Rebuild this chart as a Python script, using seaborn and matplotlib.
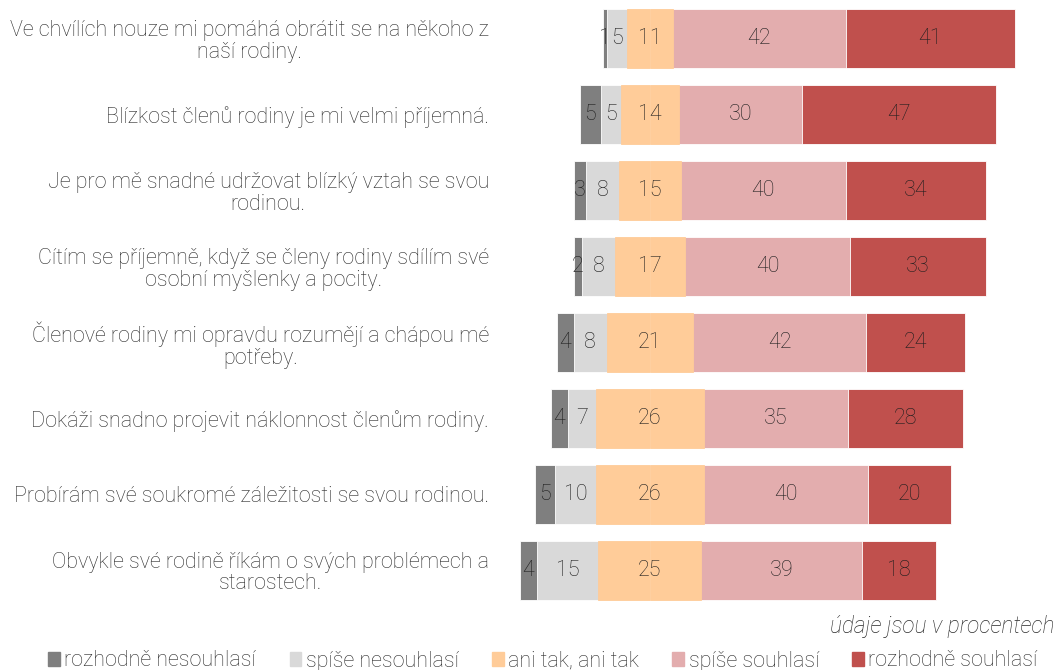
import matplotlib
matplotlib.use("Agg")
import matplotlib.pyplot as plt
import matplotlib.patches as mpatches
import numpy as np
import pandas as pd
import seaborn as sns

# statements (already wrapped as in the original chart)
items = [
    "Ve chvílích nouze mi pomáhá obrátit se na někoho z\nnaší rodiny.",
    "Blízkost členů rodiny je mi velmi příjemná.",
    "Je pro mě snadné udržovat blízký vztah se svou\nrodinou.",
    "Cítím se příjemně, když se členy rodiny sdílím své\nosobní myšlenky a pocity.",
    "Členové rodiny mi opravdu rozumějí a chápou mé\npotřeby.",
    "Dokáži snadno projevit náklonnost členům rodiny.",
    "Probírám své soukromé záležitosti se svou rodinou.",
    "Obvykle své rodině říkám o svých problémech a\nstarostech.",
]

answers = ["rozhodně nesouhlasí", "spíše nesouhlasí", "ani tak, ani tak",
           "spíše souhlasí", "rozhodně souhlasí"]

strongly_disagree = [1, 5, 3, 2, 4, 4, 5, 4]
rather_disagree = [5, 5, 8, 8, 8, 7, 10, 15]
neutral = [11, 14, 15, 17, 21, 26, 26, 25]
rather_agree = [42, 30, 40, 40, 42, 35, 40, 39]
strongly_agree = [41, 47, 34, 33, 24, 28, 20, 18]

colors = ["#7f7f7f", "#d9d9d9", "#ffcc99", "#e3adae", "#c0504d"]

df = pd.DataFrame({
    "item": items,
    answers[0]: strongly_disagree,
    answers[1]: rather_disagree,
    answers[2]: neutral,
    answers[3]: rather_agree,
    answers[4]: strongly_agree,
})

# bars are centred on the middle of the neutral answer
vals = df[answers].to_numpy(dtype=float)
start = -(vals[:, 0] + vals[:, 1] + vals[:, 2] / 2)
bounds = start[:, None] + np.hstack([np.zeros((len(df), 1)), np.cumsum(vals, axis=1)])
for k in range(6):
    df[f"b{k}"] = bounds[:, k]

fig = plt.figure(figsize=(10.57, 6.70), dpi=100)
ax = fig.add_axes([500 / 1057, 62 / 670, 557 / 1057, 607.2 / 670])

fam = ["Roboto", "DejaVu Sans"]
plt.rcParams["font.family"] = fam
txt_color = "#2b2b2b"
fs = 15.5
bw = 0.777

# layered bars: right side from far end inward, then left side
# (neutral halves get an edge in their own colour to hide the seam at 0)
layers = [("b5", 4, "white"), ("b4", 3, "white"), ("b3", 2, colors[2]),
          ("b0", 0, "white"), ("b1", 1, "white"), ("b2", 2, colors[2])]
for col, ci, ec in layers:
    sns.barplot(data=df, x=col, y="item", orient="h", color=colors[ci],
                width=bw, saturation=1, edgecolor=ec, linewidth=0.6, ax=ax)

# value labels in segment centres
for i in range(len(df)):
    for j in range(5):
        xc = (bounds[i, j] + bounds[i, j + 1]) / 2
        ax.text(xc, i, f"{int(vals[i, j])}", ha="center", va="center",
                fontsize=fs, color="#1e1e1e", fontweight="light", family=fam)

ax.set_xlim(-36.4, 98.8)
ax.set_ylim(7.5, -0.5)
ax.set_xlabel("")
ax.set_ylabel("")
ax.set_xticks([])
ax.tick_params(axis="y", length=0, pad=8)
for lab in ax.get_yticklabels():
    lab.set_multialignment("center")
    lab.set_fontsize(fs)
    lab.set_color(txt_color)
    lab.set_fontweight("light")
    lab.set_family(fam)
    lab.set_linespacing(1.05)
sns.despine(ax=ax, left=True, bottom=True)

fig.text(1054 / 1057, (670 - 626) / 670, "údaje jsou v procentech", ha="right", va="center",
         fontsize=16.3, style="italic", fontweight="light", color=txt_color, family=fam)

handles = [mpatches.Patch(color=c, label=a) for c, a in zip(colors, answers)]
leg = fig.legend(handles=handles, loc="center", bbox_to_anchor=(543 / 1057, 9 / 670),
                 ncol=5, frameon=False, handlelength=0.55, handleheight=0.6,
                 handletextpad=0.2, columnspacing=1.55,
                 prop={"size": fs, "weight": "light", "family": fam})
for t in leg.get_texts():
    t.set_color(txt_color)

fig.savefig("out.png", dpi=100)
